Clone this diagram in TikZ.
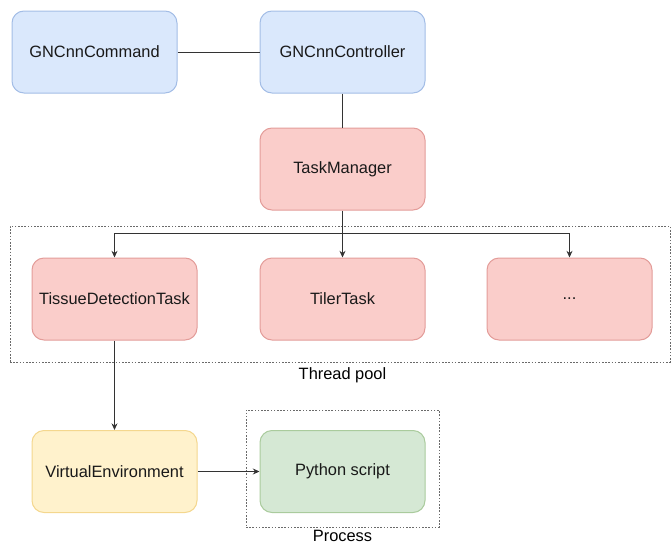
\documentclass[tikz,border=0pt]{standalone}
\usepackage{fontspec}
\setmainfont{Liberation Sans}
\usetikzlibrary{arrows.meta, positioning}

\definecolor{blueFill}{HTML}{DAE8FC}
\definecolor{blueLine}{HTML}{A3BDE6}
\definecolor{redFill}{HTML}{FACDCA}
\definecolor{redLine}{HTML}{E39C99}
\definecolor{yellowFill}{HTML}{FFF2CC}
\definecolor{yellowLine}{HTML}{F4D78E}
\definecolor{greenFill}{HTML}{D5E8D4}
\definecolor{greenLine}{HTML}{AACB9D}
\definecolor{wire}{HTML}{333333}
\definecolor{frame}{HTML}{6A6A6A}

\begin{document}
\begin{tikzpicture}[x=0.75pt, y=-0.75pt,
    font=\fontsize{12.3}{15}\selectfont,
    block/.style={draw, line width=0.75pt, rounded corners=9pt, minimum width=123.75pt, minimum height=61.5pt, text=black!90},
    ctrlbox/.style={block, fill=blueFill, draw=blueLine},
    taskbox/.style={block, fill=redFill, draw=redLine},
    envbox/.style={block, fill=yellowFill, draw=yellowLine},
    scriptbox/.style={block, fill=greenFill, draw=greenLine},
    pool/.style={draw=frame, line width=0.6pt, dash pattern=on 1.2pt off 1.2pt},
    link/.style={draw=wire, line width=0.75pt},
    arr/.style={link, -{Stealth[length=5pt, width=4.5pt]}}
]
\useasboundingbox (0,0) rectangle (672,543);

% Command and controller
\node[ctrlbox] (cmd) at (94.5,52) {GNCnnCommand};
\node[ctrlbox] (ctrl) at (342.5,52) {GNCnnController};
\draw[link] (cmd.east) -- (ctrl.west);

% Task manager
\node[taskbox] (mgr) at (342.5,169) {TaskManager};
\draw[link] (ctrl.south) -- (mgr.north);

% Thread pool with its tasks
\node[pool, minimum width=495pt, minimum height=102pt] (threads) at (340,294) {};
\node (threadslbl) at (342.5,375) {Thread pool};
\node[taskbox] (tissue) at (114.5,299) {TissueDetectionTask};
\node[taskbox] (tiler) at (342.5,299) {TilerTask};
\node[taskbox] (more) at (569.5,299) {...};

\coordinate (fork) at (342.5,233);
\draw[link] (mgr.south) -- (fork);
\draw[arr] (fork) -| (tissue.north);
\draw[arr] (fork) -- (tiler.north);
\draw[arr] (fork) -| (more.north);

% Separate process for the script
\node[envbox] (venv) at (114.5,471.5) {VirtualEnvironment};
\node[pool, minimum width=144.75pt, minimum height=87.75pt] (proc) at (342.5,468.5) {};
\node[inner sep=0pt] (proclbl) at (342.5,535.5) {Process};
\node[scriptbox] (py) at (342.5,471.5) {Python script};

\draw[arr] (tissue.south) -- (venv.north);
\draw[arr] (venv.east) -- (py.west);

\end{tikzpicture}
\end{document}
